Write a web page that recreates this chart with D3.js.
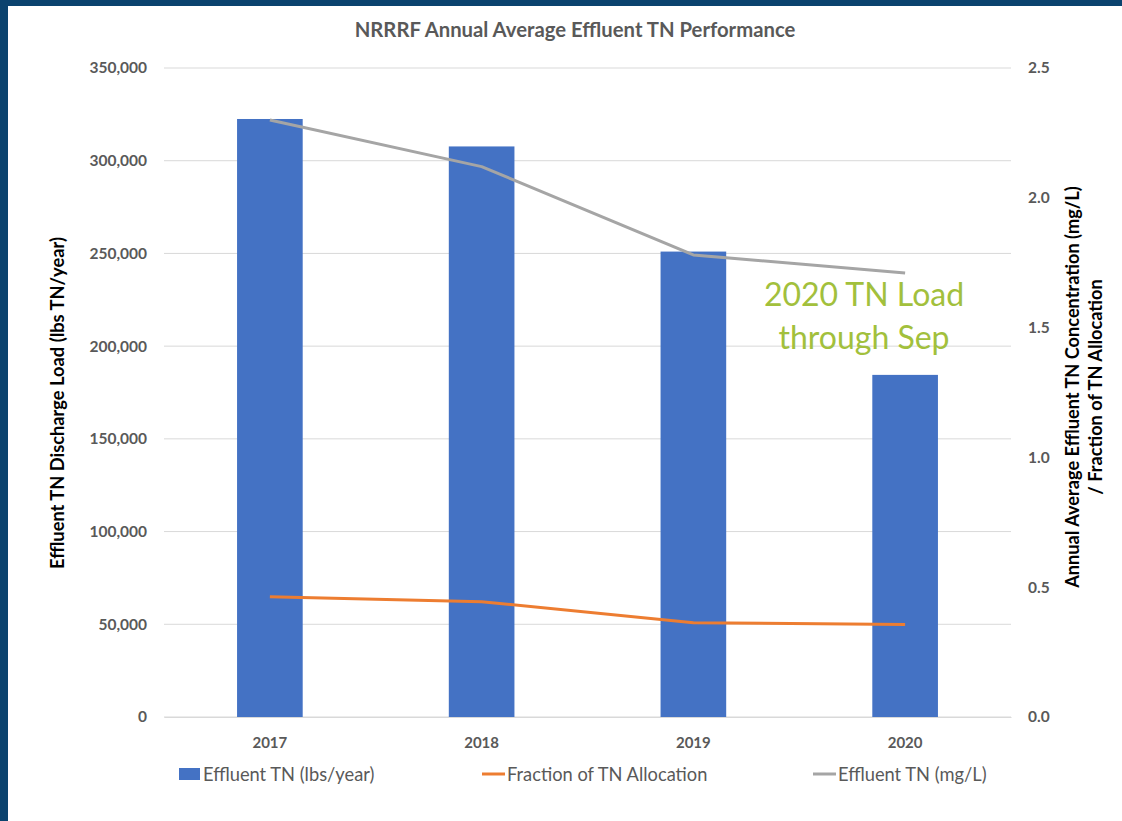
<!DOCTYPE html>
<html><head><meta charset="utf-8">
<script src="https://cdn.jsdelivr.net/npm/d3@7"></script>
<style>
html,body{margin:0;padding:0;background:#fff;}
svg{display:block;font-family:Lato,"Open Sans",sans-serif;}
</style></head>
<body>
<script>
const years = ["2017","2018","2019","2020"];
const loadLbs = [322500, 307700, 251000, 184500];
const fractionAlloc = [0.463, 0.444, 0.363, 0.356];
const effluentMgL = [2.30, 2.12, 1.78, 1.71];
const leftTicks = [0,50000,100000,150000,200000,250000,300000,350000];
const rightTicks = [0,0.5,1.0,1.5,2.0,2.5];

const W=1122,H=821;
const svg=d3.select("body").append("svg").attr("width",W).attr("height",H);
svg.append("rect").attr("width",W).attr("height",H).attr("fill","#fff");
svg.append("rect").attr("x",0).attr("y",0).attr("width",W).attr("height",6).attr("fill","#0b436e");
svg.append("rect").attr("x",0).attr("y",0).attr("width",8).attr("height",H).attr("fill","#0b436e");

const x0=164,x1=1011,yTop=68,yBot=717;
const x=d3.scaleBand().domain(years).range([x0,x1]).paddingInner(0.69).paddingOuter(0.345);
const yL=d3.scaleLinear().domain([0,350000]).range([yBot,yTop]);
const yR=d3.scaleLinear().domain([0,2.5]).range([yBot,yTop]);

// gridlines
svg.append("g").selectAll("line").data(leftTicks).join("line")
 .attr("x1",x0).attr("x2",x1).attr("y1",d=>yL(d)).attr("y2",d=>yL(d))
 .attr("stroke","#d9d9d9").attr("stroke-width",1);

const fmt=d3.format(",");
const gL=svg.append("g").attr("transform",`translate(${x0},0)`)
 .call(d3.axisLeft(yL).tickValues(leftTicks).tickFormat(fmt).tickSize(0).tickPadding(17));
gL.select(".domain").remove();
gL.selectAll("text").attr("font-size",15.5).attr("font-weight","bold").attr("fill","#595959").attr("font-family","Lato");

const gR=svg.append("g").attr("transform",`translate(${x1},0)`)
 .call(d3.axisRight(yR).tickValues(rightTicks).tickFormat(d3.format(".1f")).tickSize(0).tickPadding(17));
gR.select(".domain").remove();
gR.selectAll("text").attr("font-size",15.5).attr("font-weight","bold").attr("fill","#595959").attr("font-family","Lato");

const gB=svg.append("g").attr("transform",`translate(0,${yBot})`)
 .call(d3.axisBottom(x).tickSize(0).tickPadding(20));
gB.select(".domain").attr("stroke","#d9d9d9");
gB.selectAll("text").attr("font-size",15).attr("font-weight","bold").attr("fill","#595959").attr("font-family","Lato");

// bars
svg.append("g").selectAll("rect").data(years).join("rect")
 .attr("x",d=>x(d)).attr("width",x.bandwidth())
 .attr("y",(d,i)=>yL(loadLbs[i])).attr("height",(d,i)=>yBot-yL(loadLbs[i]))
 .attr("fill","#4472c4");

const cx=d=>x(d)+x.bandwidth()/2;
const line=d3.line().x(d=>cx(d[0])).y(d=>yR(d[1]));
svg.append("path").datum(years.map((y,i)=>[y,fractionAlloc[i]])).attr("d",line)
 .attr("fill","none").attr("stroke","#ed7d31").attr("stroke-width",3).attr("stroke-linejoin","round");
svg.append("path").datum(years.map((y,i)=>[y,effluentMgL[i]])).attr("d",line)
 .attr("fill","none").attr("stroke","#a5a5a5").attr("stroke-width",3).attr("stroke-linejoin","round");

// title
svg.append("text").attr("x",575).attr("y",37).attr("text-anchor","middle")
 .attr("font-size",20.3).attr("font-weight","bold").attr("fill","#595959").text("NRRRF Annual Average Effluent TN Performance");

// left axis title
svg.append("text").attr("transform","translate(64,403) rotate(-90)").attr("text-anchor","middle")
 .attr("font-size",18.3).attr("font-weight","bold").attr("fill","#000").text("Effluent TN Discharge Load (lbs TN/year)");
// right axis title
const rt=svg.append("text").attr("transform","translate(1079,387) rotate(-90)").attr("text-anchor","middle")
 .attr("font-size",18.2).attr("font-weight","bold").attr("fill","#000");
rt.append("tspan").attr("x",0).attr("dy",0).text("Annual Average Effluent TN Concentration (mg/L)");
rt.append("tspan").attr("x",0).attr("dy",23).text("/ Fraction of TN Allocation");

// annotation
const an=svg.append("text").attr("x",864).attr("y",306).attr("text-anchor","middle")
 .attr("font-size",32).attr("font-weight",400).attr("fill","#a2c03c");
an.append("tspan").attr("x",864).attr("dy",0).text("2020 TN Load");
an.append("tspan").attr("x",864).attr("dy",43).text("through Sep");

// legend
const leg=svg.append("g").attr("font-size",18.3).attr("fill","#595959");
leg.append("rect").attr("x",179).attr("y",768).attr("width",21).attr("height",12).attr("fill","#4472c4");
leg.append("text").attr("x",203).attr("y",781).text("Effluent TN (lbs/year)");
leg.append("line").attr("x1",482).attr("x2",505).attr("y1",774).attr("y2",774).attr("stroke","#ed7d31").attr("stroke-width",3);
leg.append("text").attr("x",507).attr("y",781).text("Fraction of TN Allocation");
leg.append("line").attr("x1",813).attr("x2",836).attr("y1",774).attr("y2",774).attr("stroke","#a5a5a5").attr("stroke-width",3);
leg.append("text").attr("x",838).attr("y",781).text("Effluent TN (mg/L)");
</script>
</body></html>
